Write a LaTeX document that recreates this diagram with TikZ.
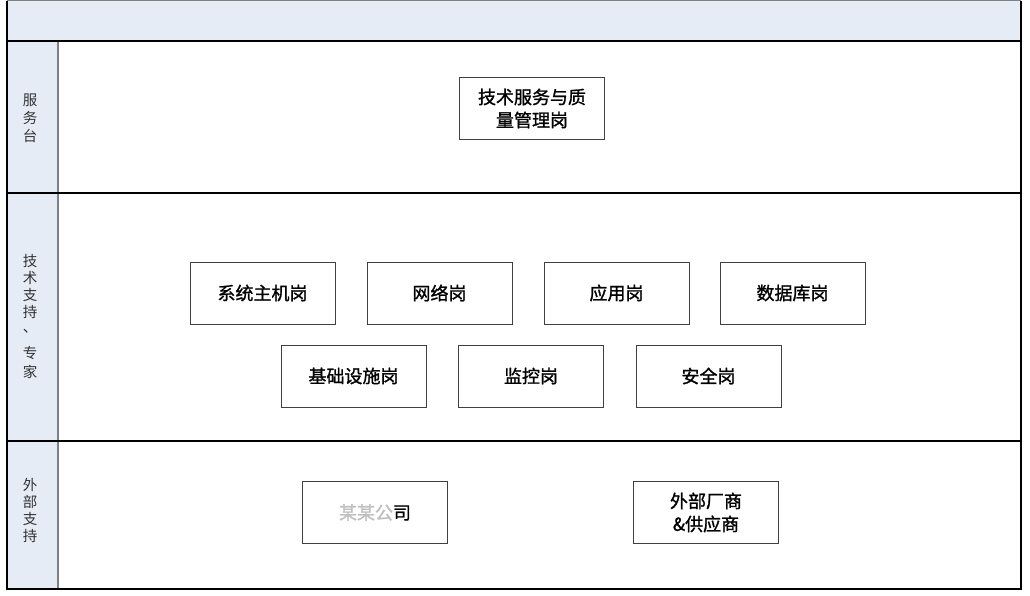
\documentclass[tikz,border=0pt]{standalone}
\usepackage{fontspec}
\newfontfamily\cjk{Noto Sans CJK SC}
\newfontfamily\cjkb[FakeBold=1.2]{Noto Sans CJK SC}
\definecolor{bandblue}{HTML}{E6ECF6}
\definecolor{boxline}{HTML}{404040}
\definecolor{sideline}{HTML}{808080}
\definecolor{sidetext}{HTML}{333333}
\tikzset{
  rolebox/.style={draw=boxline, line width=0.9pt, fill=white, minimum width=145pt, minimum height=62pt, inner sep=0pt, font=\cjkb\fontsize{18}{23}\selectfont, align=center, text=black},
  sidechar/.style={inner sep=0pt, font=\cjk\fontsize{14.5}{16}\selectfont, text=sidetext},
  rowline/.style={draw=black, line width=1.3pt},
}
\begin{document}
\begin{tikzpicture}[x=1pt,y=-1pt]
\useasboundingbox (0,0) rectangle (1030,596);
% bands
\fill[bandblue] (7,1) rectangle (1021,41);
\fill[bandblue] (7,41) rectangle (58,589);
\draw[sideline, line width=1.2pt] (58,41) -- (58,589);
\draw[rowline] (7,41) -- (1021,41);
\draw[rowline] (7,193) -- (1021,193);
\draw[rowline] (7,441) -- (1021,441);
\draw[sideline, line width=1pt] (7,1) -- (1021,1);
\draw[black, line width=1.3pt] (7,1) -- (7,589) -- (1021,589) -- (1021,1);
% side labels
\node[sidechar] (s1a) at (30,100) {服};
\node[sidechar] (s1b) at (30,118) {务};
\node[sidechar] (s1c) at (30,136) {台};
\node[sidechar] (s2a) at (30,261) {技};
\node[sidechar] (s2b) at (30,278) {术};
\node[sidechar] (s2c) at (30,295) {支};
\node[sidechar] (s2d) at (30,312) {持};
\node[sidechar] (s2e) at (30,331) {、};
\node[sidechar] (s2f) at (30,353) {专};
\node[sidechar] (s2g) at (30,372) {家};
\node[sidechar] (s3a) at (30,485) {外};
\node[sidechar] (s3b) at (30,502) {部};
\node[sidechar] (s3c) at (30,519) {支};
\node[sidechar] (s3d) at (30,536) {持};
% boxes
\node[rolebox] (tsq) at (532,108.5) {技术服务与质\\量管理岗};
\node[rolebox] (zj) at (262.5,293) {系统主机岗};
\node[rolebox] (wl) at (439.5,293) {网络岗};
\node[rolebox] (yy) at (616.5,293) {应用岗};
\node[rolebox] (sjk) at (792.5,293) {数据库岗};
\node[rolebox] (jc) at (353.5,376) {基础设施岗};
\node[rolebox] (jk) at (531,376) {监控岗};
\node[rolebox] (aq) at (708.5,376) {安全岗};
\node[rolebox] (gs) at (375,512.5) {\textcolor{black!25}{某某公}司};
\node[rolebox] (cs) at (706,512.5) {外部厂商\\\&供应商};
\end{tikzpicture}
\end{document}
